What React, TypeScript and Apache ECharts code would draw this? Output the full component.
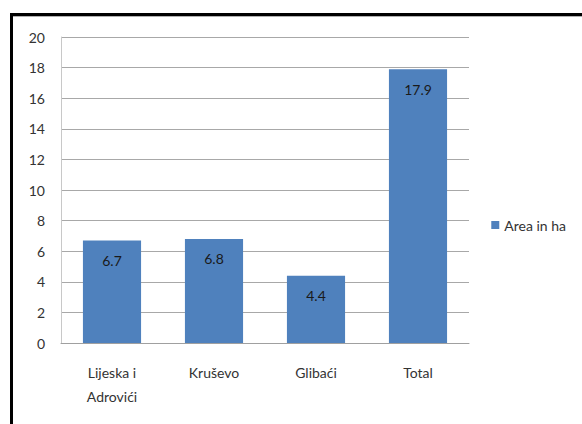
import React, { useEffect, useRef } from "react";
import * as echarts from "echarts";

const categories = ["Lijeska i\nAdrovići", "Kruševo", "Glibaći", "Total"];
const areaValues = [6.7, 6.8, 4.4, 17.9];
const seriesName = "Area in ha";

export default function App() {
  const ref = useRef<HTMLDivElement>(null);
  useEffect(() => {
    document.body.style.margin = "0";
    const chart = echarts.init(ref.current!, null, { renderer: "svg" });
    const font = "Lato, 'Open Sans', sans-serif";
    chart.setOption({
      animation: false,
      backgroundColor: "#ffffff",
      textStyle: { fontFamily: font },
      grid: { left: 61, right: 113, top: 37, bottom: 81 },
      legend: {
        data: [seriesName],
        right: 11,
        top: 213,
        itemWidth: 8,
        itemHeight: 8,
        itemGap: 4,
        icon: "rect",
        textStyle: { fontFamily: font, fontSize: 14, color: "#333" },
      },
      xAxis: {
        type: "category",
        data: categories,
        axisLine: { lineStyle: { color: "#a0a0a0", width: 1 } },
        axisTick: { show: false },
        axisLabel: {
          color: "#333",
          fontSize: 14,
          margin: 17,
          lineHeight: 24,
          fontFamily: font,
        },
      },
      yAxis: {
        type: "value",
        min: 0,
        max: 20,
        interval: 2,
        axisLine: { show: true, lineStyle: { color: "#c8c8c8", width: 1 } },
        axisTick: { show: false },
        axisLabel: { color: "#333", fontSize: 14, margin: 16, fontFamily: font },
        splitLine: { lineStyle: { color: "#a8a8a8", width: 1 } },
      },
      series: [
        {
          name: seriesName,
          type: "bar",
          data: areaValues,
          barWidth: "57%",
          itemStyle: { color: "#4F81BD" },
          label: {
            show: true,
            position: "insideTop",
            distance: 13,
            color: "#1a1a1a",
            fontSize: 14,
            fontFamily: font,
          },
        },
      ],
      graphic: [
        {
          type: "rect",
          shape: { x: 10, y: 13, width: 572, height: 3 },
          style: { fill: "#000" },
          silent: true,
        },
        {
          type: "rect",
          shape: { x: 13, y: 16, width: 569, height: 1 },
          style: { fill: "#b0b0b0" },
          silent: true,
        },
        {
          type: "rect",
          shape: { x: 10, y: 13, width: 3, height: 411 },
          style: { fill: "#000" },
          silent: true,
        },
      ],
    });
    return () => chart.dispose();
  }, []);
  return <div ref={ref} style={{ width: 582, height: 424 }} />;
}
